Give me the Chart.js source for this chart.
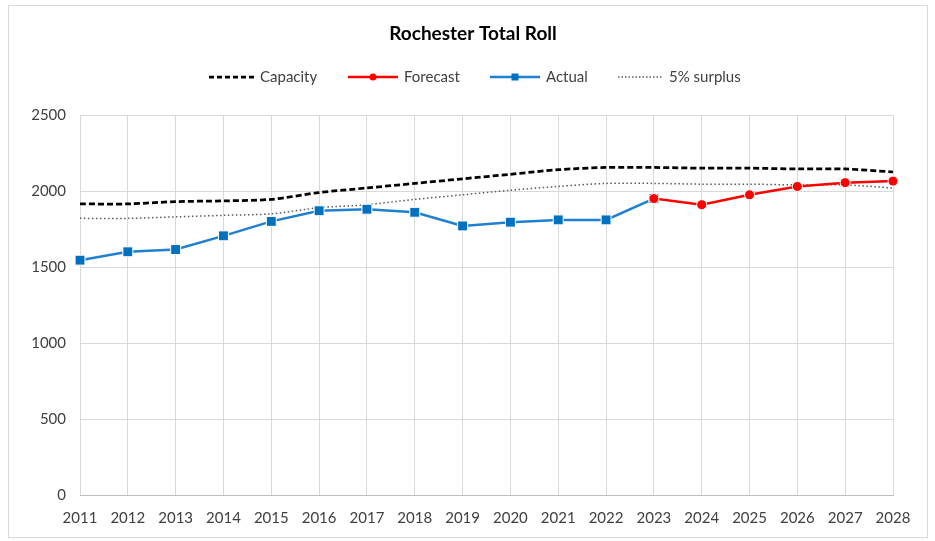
<!DOCTYPE html>
<html>
<head>
<meta charset="utf-8">
<script src="https://cdn.jsdelivr.net/npm/chart.js@4.4.0/dist/chart.umd.min.js"></script>
<style>
  body { margin: 0; background: #fff; }
  #frame { position: absolute; left: 8px; top: 5px; width: 918px; height: 531px; border: 1px solid #d9d9d9; }
  canvas { position: absolute; left: 0; top: 0; }
</style>
</head>
<body>
<div id="frame"></div>
<canvas id="rollChart" width="935" height="541"></canvas>
<script>
// years on the x axis
const years = ["2011", "2012", "2013", "2014", "2015", "2016", "2017", "2018", "2019",
               "2020", "2021", "2022", "2023", "2024", "2025", "2026", "2027", "2028"];

const capacity = [1915, 1915, 1930, 1935, 1945, 1990, 2020, 2050, 2080,
                  2110, 2140, 2155, 2155, 2150, 2150, 2145, 2145, 2125];
const surplus = [1820, 1820, 1830, 1840, 1850, 1890, 1910, 1945, 1975,
                 2005, 2030, 2050, 2050, 2045, 2045, 2040, 2040, 2020];
const actual = [1545, 1600, 1615, 1705, 1800, 1870, 1880, 1860, 1770,
                1795, 1810, 1810, 1950, null, null, null, null, null];
const forecast = [null, null, null, null, null, null, null, null, null,
                  null, null, null, 1950, 1910, 1975, 2030, 2055, 2065];

const yTicks = [0, 500, 1000, 1500, 2000, 2500];

const FONT = "Lato, 'Open Sans', sans-serif";

// legend: line sample + marker + text, drawn by hand like Excel does it
const legendItems = [
    { text: "Capacity", x: 209, color: "#000000", width: 2.75, dash: [5, 3], marker: null },
    { text: "Forecast", x: 348, color: "#ff0000", width: 2.5, dash: [], marker: "circle" },
    { text: "Actual", x: 490, color: "#1f7fd0", width: 2.5, dash: [], marker: "square" },
    { text: "5% surplus", x: 618, color: "#595959", width: 1.5, dash: [1.5, 2], marker: null }
];

const headerPlugin = {
    id: "header",
    afterDraw(c) {
        const ctx = c.ctx;
        ctx.save();
        ctx.fillStyle = "#000";
        ctx.font = "bold 19px " + FONT;
        ctx.textAlign = "center";
        ctx.textBaseline = "middle";
        ctx.fillText("Rochester Total Roll", 473, 34);

        ctx.font = "15px " + FONT;
        ctx.textAlign = "left";
        legendItems.forEach(item => {
            const y = 77;
            const len = item.marker ? 50 : 45;
            ctx.strokeStyle = item.color;
            ctx.lineWidth = item.width;
            ctx.setLineDash(item.dash);
            ctx.beginPath();
            ctx.moveTo(item.x, y);
            ctx.lineTo(item.x + len, y);
            ctx.stroke();
            ctx.setLineDash([]);
            ctx.fillStyle = item.color;
            if (item.marker === "circle") {
                ctx.beginPath();
                ctx.arc(item.x + len / 2, y, 3.5, 0, Math.PI * 2);
                ctx.fill();
            } else if (item.marker === "square") {
                ctx.fillStyle = "#0070c0";
                ctx.fillRect(item.x + len / 2 - 3.5, y - 3.5, 7, 7);
            }
            ctx.fillStyle = "#404040";
            ctx.fillText(item.text, item.x + len + 6, y);
        });
        ctx.restore();
    }
};

new Chart(document.getElementById("rollChart"), {
    type: "line",
    data: {
        labels: years,
        datasets: [
            {
                label: "Capacity",
                data: capacity,
                borderColor: "#000000",
                borderWidth: 2.75,
                borderDash: [6, 3],
                pointRadius: 0,
                tension: 0.3,
                order: 1
            },
            {
                label: "Forecast",
                data: forecast,
                borderColor: "#ff0000",
                backgroundColor: "#ff0000",
                borderWidth: 2.5,
                pointStyle: "circle",
                pointRadius: 5,
                pointBorderColor: "#ffffff",
                pointBorderWidth: 1,
                order: 2
            },
            {
                label: "Actual",
                data: actual,
                borderColor: "#1f7fd0",
                backgroundColor: "#0070c0",
                borderWidth: 2.5,
                pointStyle: "rect",
                pointRadius: 7,
                pointBorderColor: "#ffffff",
                pointBorderWidth: 1,
                order: 3
            },
            {
                label: "5% surplus",
                data: surplus,
                borderColor: "#595959",
                borderWidth: 1.5,
                borderDash: [1.5, 2.5],
                pointRadius: 0,
                tension: 0.3,
                order: 4
            }
        ]
    },
    options: {
        responsive: false,
        animation: false,
        spanGaps: false,
        layout: { padding: { top: 115, right: 42, left: 0, bottom: 0 } },
        plugins: {
            legend: { display: false },
            title: { display: false },
            tooltip: { enabled: false }
        },
        scales: {
            x: {
                offset: false,
                grid: { color: "#d9d9d9", drawTicks: false },
                border: { color: "#bfbfbf" },
                ticks: { color: "#404040", font: { size: 15, family: FONT }, padding: 14, maxRotation: 0, autoSkip: false },
                afterFit(scale) { scale.height = 46; }
            },
            y: {
                min: 0,
                max: 2500,
                afterBuildTicks(scale) { scale.ticks = yTicks.map(v => ({ value: v })); },
                grid: { color: "#d9d9d9", drawTicks: false },
                border: { display: false },
                ticks: { color: "#404040", font: { size: 15, family: FONT }, padding: 14, callback: v => String(v) },
                afterFit(scale) { scale.width = 80; }
            }
        }
    },
    plugins: [headerPlugin]
});
</script>
</body>
</html>
